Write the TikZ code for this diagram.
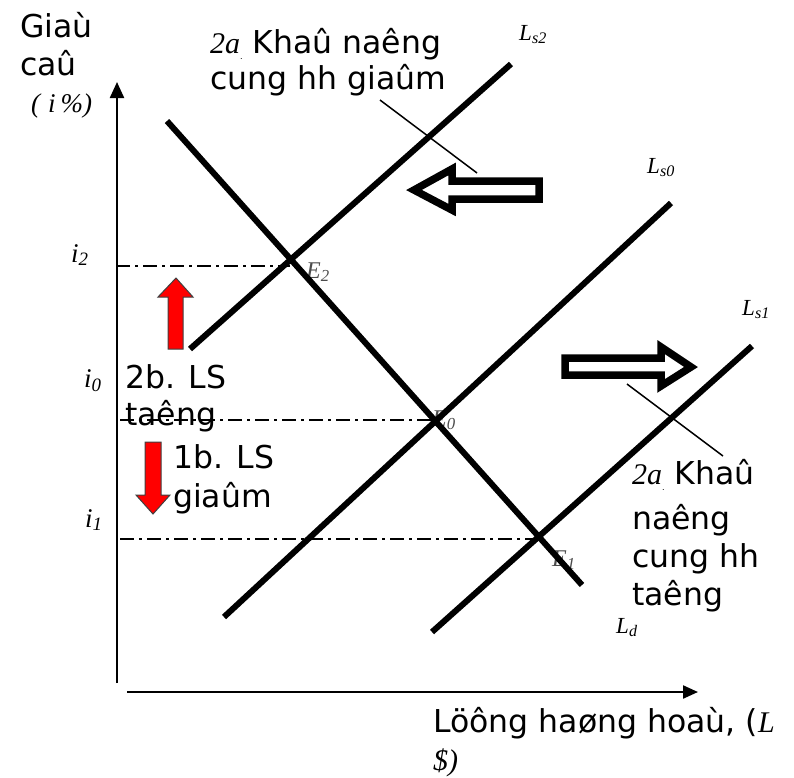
\documentclass[tikz,border=0pt]{standalone}
\usepackage{fontspec}
\setmainfont{DejaVu Sans}
\newfontfamily\tms{Liberation Serif}
\usetikzlibrary{arrows.meta}
\begin{document}
\begin{tikzpicture}[x=1pt,y=-1pt,
  curve/.style={line width=6pt},
  axis/.style={line width=2.2pt},
  guide/.style={line width=1.6pt, dash pattern=on 14pt off 5pt on 3pt off 5pt},
  leader/.style={line width=1.5pt},
  hollow/.style={line width=7.5pt, fill=white, miter limit=10},
  redarrow/.style={fill=red, draw=black!75, line width=1pt},
  txt/.style={inner sep=0pt, anchor=base west, font=\fontsize{31.5}{38}\selectfont},
  ser/.style={inner sep=0pt, anchor=base west, font=\tms\itshape\fontsize{27}{27}\selectfont},
  elab/.style={inner sep=0pt, anchor=base west, text=black!70, font=\tms\itshape\fontsize{24}{24}\selectfont},
  llab/.style={inner sep=0pt, anchor=base west, font=\tms\itshape\fontsize{23}{23}\selectfont}]
\useasboundingbox (0,0) rectangle (794,777);

% coordinates
\coordinate (yb) at (117,683);
\coordinate (yt) at (117,82);
\coordinate (xl) at (127,692);
\coordinate (xr) at (698,692);
\coordinate (E2) at (290,266);
\coordinate (E0) at (433,420);
\coordinate (E1) at (537,539);
\coordinate (g2) at (116,266);
\coordinate (g0) at (120,420);
\coordinate (g1) at (120,539);

% guide lines
\draw[guide] (g2) -- (E2);
\draw[guide] (g0) -- (E0);
\draw[guide] (g1) -- (E1);

% E labels
\node[elab] (e2) at (306,278) {E\textsubscript{2}};
\node[elab] (e0) at (432,426) {E\textsubscript{0}};
\node[elab] (e1) at (552,566) {E\textsubscript{1}};

% curves
\coordinate (d1) at (167,121); \coordinate (d2) at (582,585);
\coordinate (s21) at (190,349); \coordinate (s22) at (511,64);
\coordinate (s01) at (224,617); \coordinate (s02) at (671,203);
\coordinate (s11) at (432,632); \coordinate (s12) at (752,346);
\draw[curve] (d1) -- (d2);
\draw[curve] (s21) -- (s22);
\draw[curve] (s01) -- (s02);
\draw[curve] (s11) -- (s12);

% axes
\draw[axis,-{Triangle[length=16pt,width=14pt]}] (yb) -- (yt);
\draw[axis,-{Triangle[length=15pt,width=13pt]}] (xl) -- (xr);

% hollow arrows
\draw[hollow] (539,181) -- (452,181) -- (452,169) -- (414,190) -- (452,210) -- (452,199) -- (539,199) -- cycle;
\draw[hollow] (565,358) -- (661,358) -- (661,347) -- (691,367) -- (661,386) -- (661,375) -- (565,375) -- cycle;

% leader lines
\coordinate (la1) at (380,100); \coordinate (la2) at (477,173);
\coordinate (lb1) at (627,384); \coordinate (lb2) at (723,456);
\draw[leader] (la1) -- (la2);
\draw[leader] (lb1) -- (lb2);

% red arrows
\draw[redarrow] (168,349) -- (168,297) -- (158,297) -- (176,278) -- (193,297) -- (183,297) -- (183,349) -- cycle;
\draw[redarrow] (145,442) -- (161,442) -- (161,495) -- (170,495) -- (153,514) -- (136,495) -- (145,495) -- cycle;

% axis labels
\node[txt] (ylab) at (20,37) {\vtop{\baselineskip=38pt\hbox{Giaù}\hbox{caû}}};
\node[ser] (ypct) at (31,112) {(\hspace{8pt}i\hspace{5pt}\%)};
\node[txt] (xlab) at (433,732) {\vtop{\baselineskip=38pt\hbox{Löông haøng hoaù, ({\tms\itshape\fontsize{30}{30}\selectfont L}}\hbox{\tms\itshape\fontsize{30}{30}\selectfont \$)}}};

% i labels
\node[ser] (i2) at (71,262) {i\textsubscript{2}};
\node[ser] (i0) at (84,387) {i\textsubscript{0}};
\node[ser] (i1) at (85,527) {i\textsubscript{1}};

% L labels
\node[llab] (ls2) at (519,40) {L\textsubscript{s2}};
\node[llab] (ls0) at (647,173) {L\textsubscript{s0}};
\node[llab] (ls1) at (742,315) {L\textsubscript{s1}};
\node[llab] (ld) at (616,633) {L\textsubscript{d}};

% annotation texts
\node[txt] (ta) at (210,53) {\vtop{\baselineskip=36pt\hbox{{\tms\itshape\fontsize{30}{30}\selectfont 2a}\raisebox{-6pt}{\fontsize{8}{8}\selectfont.}\ Khaû naêng}\hbox{cung hh giaûm}}};
\node[txt] (tb) at (632,484) {\vtop{\baselineskip=38pt\hbox{{\tms\itshape\fontsize{30}{30}\selectfont 2a}\raisebox{-6pt}{\fontsize{8}{8}\selectfont.}\ Khaû}\kern7pt\hbox{naêng}\hbox{cung hh}\hbox{taêng}}};
\node[txt] (t2b) at (125,388) {\vtop{\baselineskip=37pt\hbox{2b. LS}\hbox{taêng}}};
\node[txt] (t1b) at (173,468) {\vtop{\baselineskip=39pt\hbox{1b. LS}\hbox{giaûm}}};
\end{tikzpicture}
\end{document}
